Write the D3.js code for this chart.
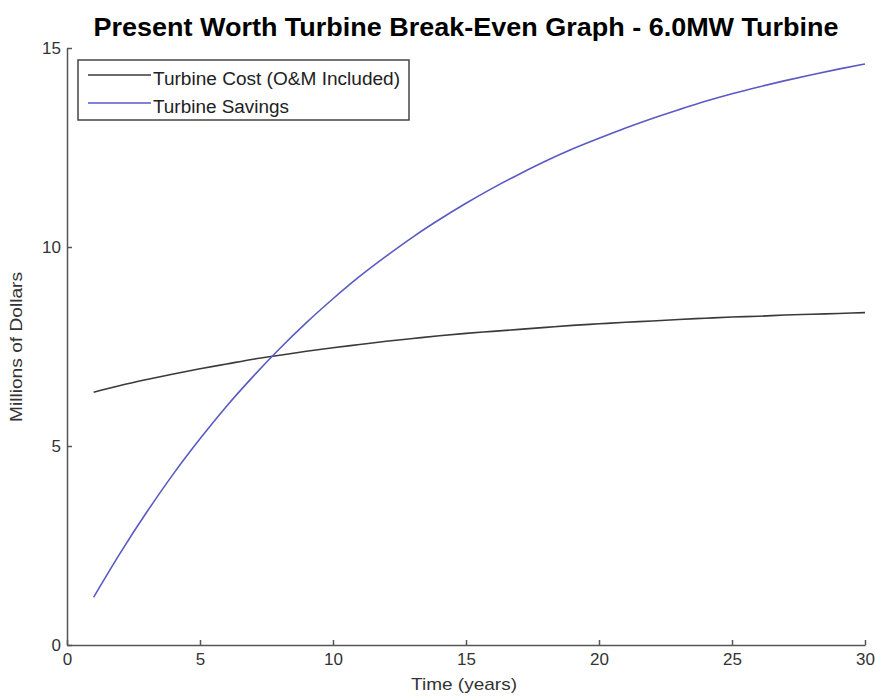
<!DOCTYPE html>
<meta charset="utf-8">
<style>
body { margin: 0; background: white; }
text { font-family: "Liberation Sans", Arial, sans-serif; }
.axis path, .axis line { stroke: #555; stroke-width: 1.5px; }
.axis text { fill: #333; font-size: 17px; }
</style>
<body>
<script src="https://d3js.org/d3.v7.min.js"></script>
<script>
var years = [1,2,3,4,5,6,7,8,9,10,11,12,13,14,15,16,17,18,19,20,21,22,23,24,25,26,27,28,29,30];
var turbineCost = [6.35,6.52,6.67,6.81,6.94,7.06,7.18,7.28,7.38,7.47,7.55,7.63,7.70,7.77,7.83,
                   7.88,7.93,7.98,8.03,8.07,8.11,8.14,8.18,8.21,8.24,8.26,8.29,8.31,8.33,8.35];
var turbineSavings = [1.20,2.31,3.34,4.30,5.18,6.00,6.75,7.45,8.10,8.70,9.26,9.77,10.25,10.69,11.10,
                      11.48,11.83,12.16,12.46,12.73,12.99,13.23,13.45,13.66,13.85,14.02,14.18,14.33,14.47,14.60];
var xTicks = [0,5,10,15,20,25,30];
var yTicks = [0,5,10,15];
var seriesNames = ["Turbine Cost (O&M Included)", "Turbine Savings"];
var seriesColors = ["#3a3a3a", "#5a5ac4"];

var width = 875,
    height = 698;

var svg = d3.select("body").append("svg")
    .attr("width", width)
    .attr("height", height);

var x = d3.scaleLinear().domain([0, 30]).range([67, 865]);
var y = d3.scaleLinear().domain([0, 15]).range([645, 48]);

// axes, ticks pointing inward like matlab
svg.append("g")
    .attr("class", "axis")
    .attr("transform", "translate(0,645)")
    .call(d3.axisTop(x).tickValues(xTicks).tickSize(5).tickSizeOuter(0).tickPadding(-25));

svg.append("g")
    .attr("class", "axis")
    .attr("transform", "translate(67,0)")
    .call(d3.axisRight(y).tickValues(yTicks).tickSize(5).tickSizeOuter(0).tickPadding(-11))
    .selectAll("text").attr("text-anchor", "end");

var line = d3.line()
    .x(function(d) { return x(d[0]); })
    .y(function(d) { return y(d[1]); })
    .curve(d3.curveMonotoneX);

[turbineCost, turbineSavings].forEach(function(vals, i) {
  svg.append("path")
      .datum(years.map(function(yr, j) { return [yr, vals[j]]; }))
      .attr("fill", "none")
      .attr("stroke", seriesColors[i])
      .attr("stroke-width", 1.6)
      .attr("d", line);
});

// title and labels
svg.append("text")
    .attr("x", 466).attr("y", 36)
    .attr("text-anchor", "middle")
    .attr("font-size", 25).attr("font-weight", "bold")
    .attr("textLength", 745).attr("lengthAdjust", "spacingAndGlyphs")
    .text("Present Worth Turbine Break-Even Graph - 6.0MW Turbine");

svg.append("text")
    .attr("x", 464).attr("y", 690)
    .attr("text-anchor", "middle")
    .attr("font-size", 17).attr("fill", "#333")
    .attr("textLength", 106).attr("lengthAdjust", "spacingAndGlyphs")
    .text("Time (years)");

svg.append("text")
    .attr("transform", "translate(22,347) rotate(-90)")
    .attr("text-anchor", "middle")
    .attr("font-size", 17).attr("fill", "#333")
    .attr("textLength", 150).attr("lengthAdjust", "spacingAndGlyphs")
    .text("Millions of Dollars");

// legend
var legend = svg.append("g");
legend.append("rect")
    .attr("x", 78).attr("y", 60).attr("width", 331).attr("height", 60)
    .attr("fill", "white").attr("stroke", "#444").attr("stroke-width", 1.5);

var legendTextLen = [247, 136];
seriesNames.forEach(function(name, i) {
  var ly = 75 + i * 28;
  legend.append("line")
      .attr("x1", 88).attr("x2", 151).attr("y1", ly).attr("y2", ly)
      .attr("stroke", seriesColors[i]).attr("stroke-width", 1.6);
  legend.append("text")
      .attr("x", 153).attr("y", ly + 10)
      .attr("font-size", 18).attr("fill", "#222")
      .attr("textLength", legendTextLen[i]).attr("lengthAdjust", "spacingAndGlyphs")
      .text(name);
});
</script>
</body>
